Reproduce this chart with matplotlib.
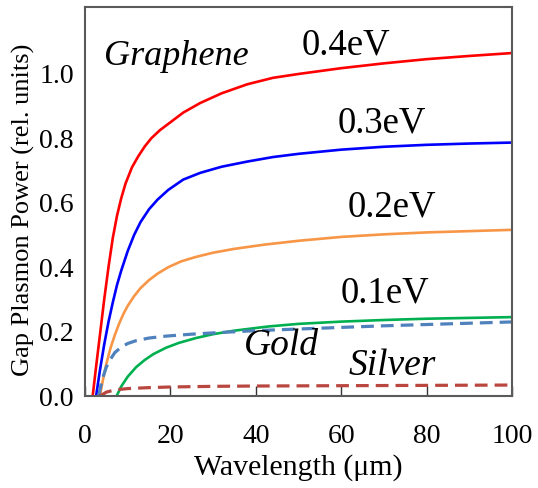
import matplotlib
matplotlib.use('Agg')
import matplotlib.pyplot as plt

plt.rcParams['font.family'] = ['Liberation Serif', 'DejaVu Serif']

# graphene curves (wavelength in um, power in rel. units)
x_04 = [1.8, 2.5, 3.5, 4.5, 5.5, 6.5, 7.5, 8.5, 9.5, 11, 12.5, 14, 15.5, 17.5, 20, 23, 27, 32, 38, 44, 50, 60, 70, 80, 90, 100]
y_04 = [0, .08, .19, .30, .40, .49, .56, .615, .66, .71, .745, .775, .80, .825, .85, .88, .91, .94, .968, .988, 1.0, 1.018, 1.033, 1.046, 1.056, 1.065]

x_03 = [2.6, 3.5, 4.5, 5.5, 6.5, 7.5, 8.5, 10, 11.5, 13, 15, 17, 19.5, 23, 27, 32, 38, 44, 50, 60, 70, 80, 90, 100]
y_03 = [0, .08, .16, .23, .29, .345, .39, .45, .50, .54, .58, .61, .64, .672, .693, .712, .728, .742, .752, .765, .774, .78, .784, .787]

x_02 = [3.5, 4.2, 5, 6, 7, 8, 9, 10, 11.5, 13, 15, 17, 19.5, 22.5, 26, 30, 35, 42, 50, 60, 70, 80, 90, 100]
y_02 = [0, .05, .10, .15, .19, .225, .255, .28, .31, .335, .36, .38, .40, .418, .432, .445, .457, .47, .482, .494, .502, .508, .512, .516]

x_01 = [7.4, 8.5, 10, 12, 14, 16, 19, 22, 26, 30, 35, 43, 50, 60, 70, 80, 100]
y_01 = [0, .03, .06, .09, .112, .13, .15, .165, .18, .192, .203, .216, .224, .231, .236, .24, .245]

# metals
x_gold = [3.2, 4, 5, 6, 7, 8.5, 10, 12, 15, 19, 25, 30, 40, 50, 60, 70, 80, 100]
y_gold = [0, .05, .09, .115, .135, .152, .163, .172, .18, .186, .192, .196, .203, .208, .213, .218, .222, .23]

x_silver = [3.5, 5, 7, 10, 15, 20, 30, 40, 60, 80, 100]
y_silver = [0, .012, .019, .023, .026, .028, .030, .031, .032, .033, .034]

fig = plt.figure(figsize=(5.38, 4.88), dpi=100)
ax = fig.add_axes([85/538, 92/488, 427/538, 389/488])

lw = 1.9
ax.plot(x_04, y_04, color='#ff0000', lw=lw)
ax.plot(x_03, y_03, color='#0000ff', lw=lw)
ax.plot(x_02, y_02, color='#f79646', lw=lw)
ax.plot(x_01, y_01, color='#00b050', lw=lw)
ax.plot(x_gold, y_gold, color='#4f81bd', lw=2.3, dashes=(4, 2.2))
ax.plot(x_silver, y_silver, color='#b9473f', lw=2.3, dashes=(4, 2.2))

ax.set_xlim(0, 100)
ax.set_ylim(0, 1.208)
ax.set_xticks([0, 20, 40, 60, 80, 100])
ax.set_yticks([0, 0.2, 0.4, 0.6, 0.8, 1.0])
ax.set_yticklabels(['0.0', '0.2', '0.4', '0.6', '0.8', '1.0'])
ax.tick_params(axis='x', direction='in', length=7, width=1, labelsize=20, pad=20, color='#333333')
ax.tick_params(axis='y', length=0, labelsize=20, pad=8)
for s in ax.spines.values():
    s.set_color('#5a5a5a')
    s.set_linewidth(1.5)

ax.set_xlabel('Wavelength (μm)', fontsize=21.5)
ax.xaxis.set_label_coords(0.5, -0.148)
ax.set_ylabel('Gap Plasmon Power (rel. units)', fontsize=19)
ax.yaxis.set_label_coords(-0.117, 0.478)

ax.text(21.3, 1.028, 'Graphene', fontsize=26, style='italic', ha='center', va='baseline')
ax.text(61.1, 1.059, '0.4eV', fontsize=26.5, ha='center', va='baseline')
ax.text(69.4, 0.817, '0.3eV', fontsize=26.5, ha='center', va='baseline')
ax.text(71.9, 0.556, '0.2eV', fontsize=26.5, ha='center', va='baseline')
ax.text(70.3, 0.289, '0.1eV', fontsize=26.5, ha='center', va='baseline')
ax.text(45.9, 0.127, 'Gold', fontsize=27, style='italic', ha='center', va='baseline')
ax.text(71.9, 0.065, 'Silver', fontsize=27, style='italic', ha='center', va='baseline')

fig.savefig('out.png', dpi=100)
